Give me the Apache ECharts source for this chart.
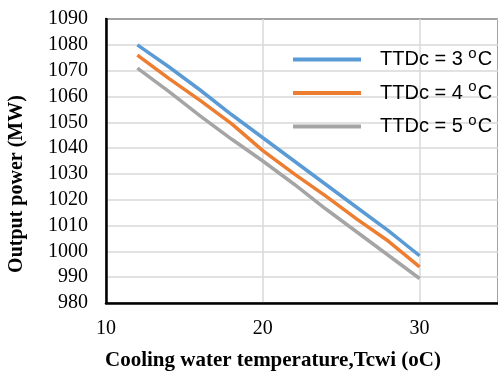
<!DOCTYPE html>
<html>
<head>
    <meta charset="utf-8">
    <title>ECharts</title>
    <script src="https://cdn.jsdelivr.net/npm/echarts@6/dist/echarts.min.js"></script>
    <style>
        body { margin: 0; overflow: hidden; background: #fff; }
    </style>
</head>
<body>
<div id="main" style="width: 501px; height: 373px;"></div>
<script type="text/javascript">
    // data
    var temps = [12, 14, 16, 18, 20, 22, 24, 26, 28, 30];
    var ttd3 = [1080, 1071.5, 1062.5, 1053, 1044, 1035, 1026, 1017, 1008, 998.3];
    var ttd4 = [1076, 1067, 1058.5, 1049.5, 1039, 1030, 1021.5, 1012.5, 1004, 994];
    var ttd5 = [1071, 1062, 1052.5, 1043.5, 1035, 1026, 1016.5, 1007.5, 998.5, 989.5];
    var seriesNames = ['TTDc = 3 °C', 'TTDc = 4 °C', 'TTDc = 5 °C'];
    var colors = ['#5B9BD5', '#ED7D31', '#A5A5A5'];

    function pairs(ys) {
        return temps.map(function (t, i) { return [t, ys[i]]; });
    }

    var myChart = echarts.init(document.getElementById('main'));

    var option = {
        backgroundColor: '#fff',
        animation: false,
        grid: {
            left: 106, top: 19, right: 0, bottom: 70,
            show: true, borderColor: '#000', borderWidth: 2
        },
        legend: {
            orient: 'vertical',
            left: 288,
            top: 41,
            itemWidth: 68,
            itemHeight: 4,
            itemGap: 10,
            icon: 'rect',
            data: seriesNames,
            formatter: function (name) {
                var n = name.replace(' °C', '');
                return n + ' {sup|o}C';
            },
            textStyle: {
                fontFamily: 'Liberation Sans',
                fontSize: 20,
                color: '#000',
                padding: [0, 0, 0, 14],
                rich: {
                    sup: { fontSize: 15, verticalAlign: 'top', padding: [0, 1, 12, 0] }
                }
            }
        },
        xAxis: {
            type: 'value',
            min: 10, max: 35, interval: 10,
            axisLine: { lineStyle: { color: '#000', width: 2.5 } },
            axisTick: { show: false },
            axisLabel: {
                margin: 16,
                fontFamily: 'Liberation Serif', fontSize: 20, color: '#000',
                formatter: function (v) { return v > 30 ? '' : String(v); }
            },
            splitLine: { show: true, lineStyle: { color: '#d9d9d9', width: 1.5 } }
        },
        yAxis: {
            type: 'value',
            min: 980, max: 1090, interval: 10,
            axisLine: { show: true, lineStyle: { color: '#000', width: 2.5 } },
            axisTick: { show: false },
            axisLabel: {
                margin: 18,
                fontFamily: 'Liberation Serif', fontSize: 20, color: '#000',
                formatter: function (v) { return String(v); }
            },
            splitLine: { show: true, lineStyle: { color: '#d9d9d9', width: 1.5 } }
        },
        title: {
            text: 'Cooling water temperature,Tcwi (oC)',
            left: 105, top: 350, padding: 0,
            textStyle: { fontFamily: 'Liberation Serif', fontSize: 21, fontWeight: 'bold', color: '#000' }
        },
        graphic: [{
            type: 'text',
            x: 17, y: 184,
            rotation: Math.PI / 2,
            style: {
                text: 'Output power (MW)',
                font: 'bold 20px "Liberation Serif"',
                fill: '#000',
                align: 'center',
                verticalAlign: 'middle'
            }
        }],
        series: [ttd3, ttd4, ttd5].map(function (ys, i) {
            return {
                name: seriesNames[i],
                type: 'line',
                data: pairs(ys),
                showSymbol: false,
                color: colors[i],
                lineStyle: { width: 3.5, color: colors[i] }
            };
        })
    };

    myChart.setOption(option);
</script>
</body>
</html>
